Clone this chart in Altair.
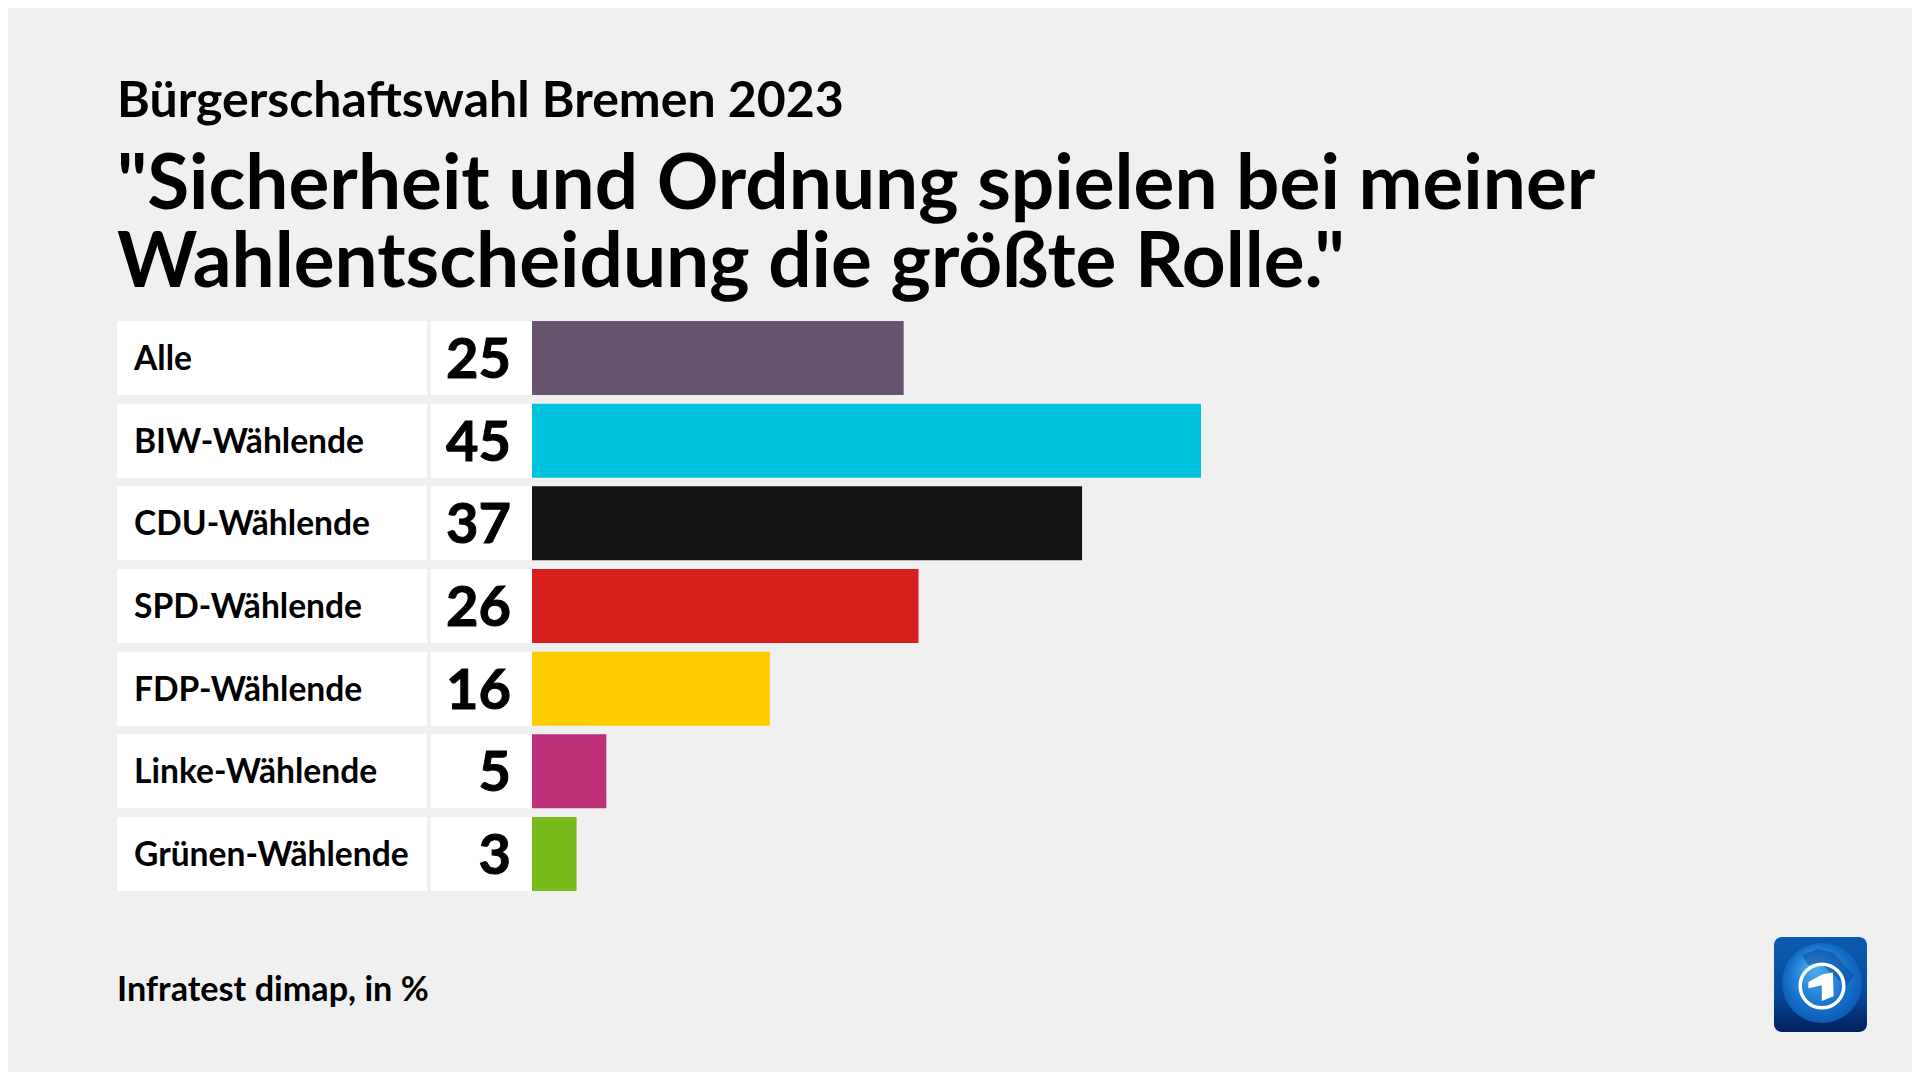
import altair as alt
import pandas as pd

categories = ["Alle", "BIW-Wählende", "CDU-Wählende", "SPD-Wählende", "FDP-Wählende", "Linke-Wählende", "Grünen-Wählende"]
values = [25, 45, 37, 26, 16, 5, 3]
colors = ["#67536f", "#00c3dd", "#141414", "#d81f1d", "#ffcc00", "#bd2f77", "#78bc1b"]
subtitle = "Bürgerschaftswahl Bremen 2023"
title_lines = ['"Sicherheit und Ordnung spielen bei meiner', 'Wahlentscheidung die größte Rolle."']
source = "Infratest dimap, in %"

FONT = "Lato"
BG = "#f0f0f0"
W, H = 1904, 1064

df = pd.DataFrame({"cat": categories, "val": values})
base = alt.Chart(df)
y = alt.Y("cat:N", sort=categories, axis=None,
          scale=alt.Scale(domain=categories, range=[313, 883], paddingInner=0.104, paddingOuter=0))
x = alt.X("val:Q", axis=None, scale=alt.Scale(domain=[0, 45], range=[524, 1193], nice=False))

cell1 = base.mark_bar(color="white").encode(y=y, x=alt.value(109), x2=alt.value(419))
cell2 = base.mark_bar(color="white").encode(y=y, x=alt.value(423), x2=alt.value(524))
bars = base.mark_bar().encode(
    y=y, x=x,
    color=alt.Color("cat:N", scale=alt.Scale(domain=categories, range=colors), legend=None),
)
labels = base.mark_text(font=FONT, fontWeight="bold", fontSize=33.6, align="left", baseline="alphabetic", dy=12, color="#000").encode(
    y=y, x=alt.value(126), text="cat:N")
nums = base.mark_text(font=FONT, fontWeight="bold", fontSize=56, align="right", baseline="alphabetic", dy=20, color="#000", stroke="#000", strokeWidth=1).encode(
    y=y, x=alt.value(503), text="val:Q")

one = alt.Chart(alt.Data(values=[{}]))

def txt(s, px, py, size):
    return one.mark_text(text=s, font=FONT, fontWeight="bold", fontSize=size, align="left", baseline="alphabetic", color="#000").encode(
        x=alt.value(px), y=alt.value(py))

# logo
lx1, lx2, ly1, ly2 = 1766, 1859, 929, 1024
square = one.mark_rect(cornerRadius=8, fill=alt.Gradient(gradient="linear", x1=0, y1=0, x2=0, y2=1,
    stops=[alt.GradientStop(offset=0, color="#0a5cb0"), alt.GradientStop(offset=0.6, color="#064a9c"), alt.GradientStop(offset=1, color="#021f5e")])).encode(
    x=alt.value(lx1), x2=alt.value(lx2), y=alt.value(ly1), y2=alt.value(ly2))
globe = one.mark_point(shape="circle", size=6400, filled=True, opacity=1, fill=alt.Gradient(gradient="radial", x1=0.4, y1=0.3, x2=0.5, y2=0.5, r1=0.05, r2=0.6,
    stops=[alt.GradientStop(offset=0, color="#4aa8ea"), alt.GradientStop(offset=0.6, color="#1672cc"), alt.GradientStop(offset=1, color="#0a4fa8")])).encode(
    x=alt.value(1814), y=alt.value(975))
land = one.mark_point(shape="M-0.5,-0.7 L-0.1,-0.85 L0.3,-0.75 L0.55,-0.45 L0.8,-0.2 L0.6,0.1 L0.3,-0.2 L0,-0.45 L-0.35,-0.45 Z",
    size=6400, filled=True, opacity=0.55, fill="#0a4a9c").encode(x=alt.value(1814), y=alt.value(975))
ring = one.mark_point(shape="circle", size=1900, filled=False, opacity=1, stroke="white", strokeWidth=3.5).encode(
    x=alt.value(1814), y=alt.value(978))
numeral = one.mark_point(shape="M-0.8,-0.25 L0.1,-0.75 L0.75,-0.85 L0.8,0.65 L0.05,0.95 L0.05,-0.05 L-0.8,0.15 Z",
    size=1000, filled=True, opacity=1, fill="white").encode(x=alt.value(1813), y=alt.value(978))

chart = alt.layer(
    cell1, cell2, bars, labels, nums,
    txt(subtitle, 109, 109, 50),
    txt(title_lines[0], 109, 201, 76.5),
    txt(title_lines[1], 109, 279, 76.5),
    txt(source, 109, 993, 34.2),
    square, globe, land, ring, numeral,
).properties(width=W, height=H, background=BG, padding=0,
    autosize=alt.AutoSizeParams(type="none")).configure_view(stroke=None)

chart.save("out.html", embed_options={"renderer": "svg", "actions": False})
